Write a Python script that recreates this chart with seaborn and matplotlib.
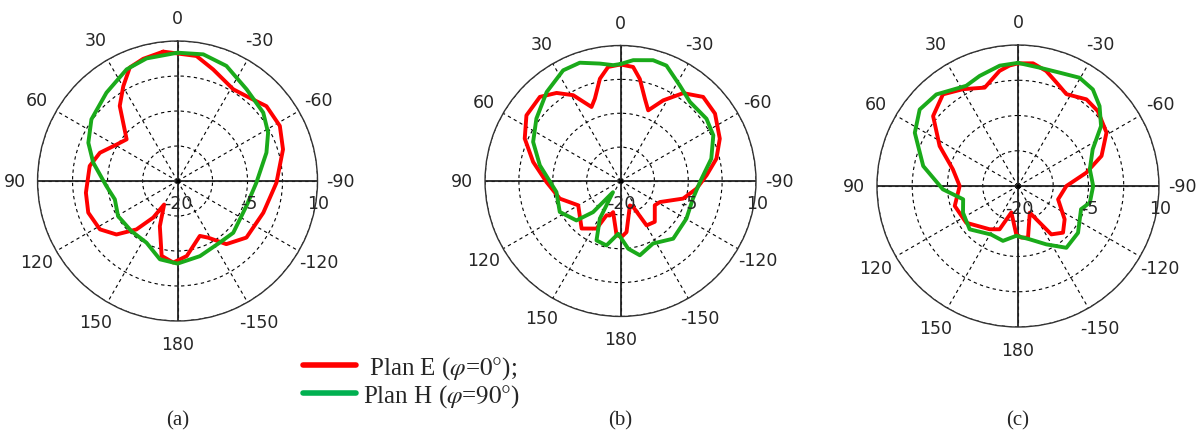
import numpy as np
import matplotlib.pyplot as plt
import seaborn as sns
from matplotlib.lines import Line2D

sns.set_style('white')
plt.rcParams['font.family'] = ['DejaVu Sans']
plt.rcParams['mathtext.fontset'] = 'stix'

RED = '#ff0000'
GREEN = '#1aaa1a'

# angles in degrees (0 at top, positive to the left) and gain in dB
# (a)
a_e_ang = [6.3, 15.7, 22.8, 29.8, 37.6, 50.7, 59, 70, 80.3, 97.3, 109.5, 121.9, 131.2, 139.7,
           146.4, 150.3, 158.6, 168, 177, -173, -157.9, -151.6, -142.3, -129.4, -110.3, -91,
           -73.3, -61.7, -49.9, -41, -31.3, -17.7, -8.6]
a_e_db = [7.9, 7.2, 6.4, 3.4, 0.3, -5.9, -4.8, -2.3, -0.9, -0.2, 0.3, -0.4, -2.6, -6.4,
          -10.6, -14.2, -9.6, -3.6, -2.5, -3.8, -7.3, -6.2, -2.9, -0.9, -0.4, 1.2,
          3.6, 4.9, 4.9, 3.6, 3.0, 5.1, 7.1]
a_h_ang = [0, 14.2, 24.5, 38.8, 54.4, 66.8, 77.7, 94, 106.3, 120.5, 137.4, 153.3, 167.3, 180,
           -163.4, -145.5, -132.9, -109.9, -91.2, -72.3, -61.9, -51.4, -37, -23, -11.5]
a_h_db = [7.5, 7.1, 6.3, 4.3, 2.7, 0.8, -1.5, -4.7, -6.0, -5.2, -5.4, -5.2, -2.8, -2.3,
          -3.2, -4.0, -3.7, -4.3, -3.1, 0.0, 2.0, 3.5, 4.6, 6.8, 7.7]

# (b)
b_e_ang = [0, -6.3, -10.7, -16.5, -21.4, -27.9, -35.5, -44.5, -54.5, -66.9, -76.9, -86.2,
           -95.8, -105.7, -118.1, -125.3, -140, -149.6, -154, -159, -173.3, -179, 175.8,
           166.7, 162.7, 157.8, 153.3, 140.7, 119.9, 106.2, 90.8, 77.7, 66.1, 55.1, 43.8,
           36, 28.9, 21.4, 17.3, 11.4, 6.2]
b_e_db = [5.8, 5.4, 3.0, -1.0, -3.2, 0.2, 3.9, 6.1, 5.7, 3.9, 1.8, -0.9,
          -3.1, -5.6, -10.1, -10.7, -8.2, -8.6, -13.6, -14.2, -8.6, -7.6, -8.0,
          -12.9, -12.0, -11.8, -8.2, -6.4, -9.2, -6.0, -3.6, -0.2, 3.2, 5.4, 5.8,
          4.1, 1.7, -2.4, -0.9, 3.1, 5.4]
b_h_ang = [0, -6, -15.1, -21.7, -31.8, -41.3, -54.1, -63.8, -76.2, -90.7, -103.7, -119.7,
           -137.6, -152.5, -165.4, -173.5, 177.5, 167.7, 158, 151.2, 146, 138.6, 131.8,
           117, 99.8, 79, 65.9, 53.4, 39.7, 27.4, 19, 10, 3.6]
b_h_db = [5.9, 6.9, 7.7, 7.5, 4.9, 3.3, 3.5, 2.9, 0.7, -2.4, -3.5, -3.2,
          -2.7, -4.4, -3.0, -4.9, -8.3, -5.4, -5.8, -10.5, -17.0, -10.8, -6.9,
          -4.9, -5.6, -1.8, 1.2, 3.2, 5.6, 7.6, 7.7, 6.4, 5.7]

# (c)
c_e_ang = [0, -7, -13.8, -20.4, -27.8, -38.3, -46.8, -58.9, -70.2, -79, -90, -108.4,
           -125.5, -136, -145.4, -153.4, -156, -169, -176.3, 178, 166, 157, 146.8, 125.4,
           107.5, 90, 75.6, 63, 50.5, 39.3, 29.6, 18.7, 9.1, 4]
c_e_db = [6.1, 6.3, 5.2, 3.5, 2.1, 3.5, 3.3, 2.0, -1.1, -5.2, -9.7, -11.0,
          -7.8, -6.2, -7.5, -12.9, -13.8, -8.8, -9.0, -9.7, -14.2, -10.0, -9.0, -6.5,
          -5.9, -7.6, -5.7, -1.3, 3.4, 5.2, 3.7, 2.1, 4.8, 5.7]
c_h_ang = [0, -10.4, -20.2, -29.6, -37.8, -45.6, -54.2, -63.9, -76.9, -90, -103, -110.2,
           -127.9, -141.9, -154.1, -167.7, 178, 164.7, 151.1, 131.9, 115.9, 103.6, 92.5,
           78.1, 62.7, 52.1, 41.7, 27.3, 19.2, 8.6]
c_h_db = [6.2, 5.6, 5.7, 6.5, 6.0, 4.3, 1.8, -2.3, -4.3, -4.0, -4.3, -5.7,
          -3.8, -3.3, -6.2, -8.4, -9.4, -7.9, -8.2, -6.2, -7.0, -8.0, -4.0,
          0.6, 4.7, 6.5, 6.1, 4.0, 4.8, 5.9]

theta_ticks = list(range(0, 360, 30))
theta_labels = [str(d if d <= 180 else d - 360) for d in theta_ticks]
r_rings = [-12.5, -5, 2.5, 10]
r_labels = [-20, -5, 10]


def closed(ang, db):
    t = np.unwrap(np.deg2rad(np.append(ang, ang[0])))
    return t, np.append(db, db[0])


def draw_panel(ax, e_ang, e_db, h_ang, h_db):
    ax.set_theta_zero_location('N')
    ax.set_theta_direction(1)
    ax.set_ylim(-20, 10)
    ax.set_yticks(r_rings)
    ax.set_yticklabels([])
    ax.set_xticks(np.deg2rad(theta_ticks))
    ax.set_xticklabels(theta_labels, fontsize=12.5)
    ax.tick_params(axis='x', pad=6)
    ax.grid(True, color='black', ls=(0, (3, 3)), lw=0.8)
    ax.spines['polar'].set_linewidth(1.0)
    ax.spines['polar'].set_color('#333333')

    # solid main axes
    for d in [0, 90, 180, 270]:
        ax.plot([np.deg2rad(d)] * 2, [-20, 10], color='#222222', lw=1.3, zorder=2)
    ax.plot(0, -20, 'k.', ms=4, zorder=3)

    t, r = closed(e_ang, e_db)
    sns.lineplot(x=t, y=r, ax=ax, sort=False, estimator=None, color=RED, lw=2.8, zorder=4,
                 solid_joinstyle='round')
    t, r = closed(h_ang, h_db)
    sns.lineplot(x=t, y=r, ax=ax, sort=False, estimator=None, color=GREEN, lw=2.8, zorder=5,
                 solid_joinstyle='round')
    ax.set_xlabel('')
    ax.set_ylabel('')

    for v in r_labels:
        ax.annotate(str(v), xy=(np.deg2rad(270), v), xytext=(1, -22), textcoords='offset pixels',
                    ha='center', va='center', fontsize=12.5, zorder=6)


fig = plt.figure(figsize=(12, 4.39), dpi=100)
ax_a = fig.add_axes([0.0313, 0.2665, 0.2333, 0.6378], projection='polar')
ax_b = fig.add_axes([0.4042, 0.2768, 0.2258, 0.6173], projection='polar')
ax_c = fig.add_axes([0.7308, 0.2528, 0.2350, 0.6424], projection='polar')

draw_panel(ax_a, a_e_ang, a_e_db, a_h_ang, a_h_db)
draw_panel(ax_b, b_e_ang, b_e_db, b_h_ang, b_h_db)
draw_panel(ax_c, c_e_ang, c_e_db, c_h_ang, c_h_db)

# captions
serif = ['Liberation Serif', 'DejaVu Serif']
for x, cap in [(178, '(a)'), (620, '(b)'), (1018, '(c)')]:
    fig.text(x / 1200, 1 - 421 / 439, cap, ha='center', va='center', fontsize=15, family=serif)

# legend
handles = [Line2D([], [], color=RED, lw=4), Line2D([], [], color='#00b050', lw=4)]
labels = [r' Plan E ($\varphi$=$\mathit{0°}$);', r'Plan H ($\varphi$=$\mathit{90°}$)']
fig.legend(handles, labels, loc='upper left', bbox_to_anchor=(303 / 1200, 1 - 355 / 439),
           frameon=False, handlelength=2.1, handletextpad=0.3, labelspacing=0.05,
           borderpad=0, borderaxespad=0, prop={'family': serif, 'size': 18})

fig.savefig('out.png', dpi=100)
